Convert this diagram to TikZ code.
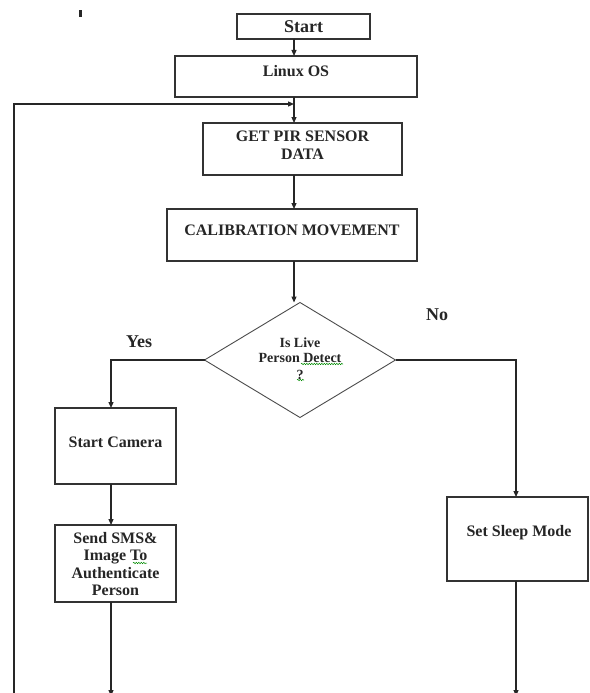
\documentclass[tikz,border=0pt]{standalone}
\usepackage{fontspec}
\setmainfont{Liberation Serif}
\usetikzlibrary{arrows.meta,shapes.geometric,decorations.pathmorphing}
\begin{document}
\begin{tikzpicture}[x=1pt,y=-1pt,
  box/.style={draw=black!80, line width=1.1pt, inner sep=0pt, outer sep=0pt, anchor=north west},
  txt/.style={font=\bfseries\fontsize{16}{17.5}\selectfont, inner sep=0pt, align=center, text=black!85},
  lbl/.style={font=\bfseries\fontsize{18}{20}\selectfont, inner sep=0pt, text=black!85},
  flow/.style={draw=black!85, line width=1.2pt, -{Triangle[length=6pt,width=5pt]}},
  squig/.style={draw=green!55!black, line width=0.5pt, decorate, decoration={snake, amplitude=0.7pt, segment length=2.5pt}}
]
\fill[white] (0,0) rectangle (589,693);
\useasboundingbox (0,0) rectangle (589,693);

% stray mark
\fill[black!85] (79,10) rectangle (81.5,17);

% helper coordinates
\coordinate (mainx) at (294,0);
\coordinate (lx) at (111,0);
\coordinate (rx) at (516,0);
\coordinate (loopx) at (14,0);
\coordinate (loopy) at (0,104);
\coordinate (bot) at (0,696);

% boxes
\node[box, minimum width=133, minimum height=25] (start) at (237,14) {};
\node[txt, font=\bfseries\fontsize{18}{20}\selectfont] (startT) at (303.5,27) {Start};

\node[box, minimum width=242, minimum height=41] (linux) at (175,56) {};
\node[txt] (linuxT) at (296,71) {Linux OS};

\node[box, minimum width=199, minimum height=52] (pir) at (203,123) {};
\node[txt] (pirT) at (302.5,145) {GET PIR SENSOR\\DATA};

\node[box, minimum width=250, minimum height=52] (cal) at (167,209) {};
\node[txt] (calT) at (292,230) {CALIBRATION MOVEMENT};

\node[draw=black!70, line width=0.9pt, diamond, minimum width=191, minimum height=115, inner sep=0pt, outer sep=0pt] (dec) at (300,360) {};
\node[txt, font=\bfseries\fontsize{14}{15}\selectfont] (decT) at (300,359) {Is Live\\Person Detect\\[2pt]?};

\node[lbl] (yes) at (139,342) {Yes};
\node[lbl] (no) at (437,315) {No};

\node[box, minimum width=121, minimum height=76] (cam) at (55,408) {};
\node[txt] (camT) at (115.5,442) {Start Camera};

\node[box, minimum width=121, minimum height=77] (sms) at (55,525) {};
\node[txt] (smsT) at (115.5,564) {Send SMS\&\\Image To\\Authenticate\\Person};

\node[box, minimum width=141, minimum height=84] (sleep) at (447,497) {};
\node[txt] (sleepT) at (519,533) {Set Sleep Mode};

% connectors
\draw[flow] (mainx |- start.south) -- (mainx |- linux.north);
\draw[flow] (mainx |- linux.south) -- (mainx |- pir.north);
\draw[flow] (mainx |- pir.south) -- (mainx |- cal.north);
\draw[flow] (mainx |- cal.south) -- (mainx |- dec.north);
\draw[flow] (dec.west) -| (lx |- cam.north);
\draw[flow] (lx |- cam.south) -- (lx |- sms.north);
\draw[flow] (lx |- sms.south) -- (lx |- bot);
\draw[flow] (dec.east) -| (rx |- sleep.north);
\draw[flow] (rx |- sleep.south) -- (rx |- bot);
\draw[flow] (loopx |- bot) |- (mainx |- loopy);

% spell-check squiggles
\draw[squig] (301,364) -- (343,364);
\draw[squig] (297,380) -- (304,380);
\draw[squig] (133,563) -- (147,563);
\end{tikzpicture}
\end{document}
